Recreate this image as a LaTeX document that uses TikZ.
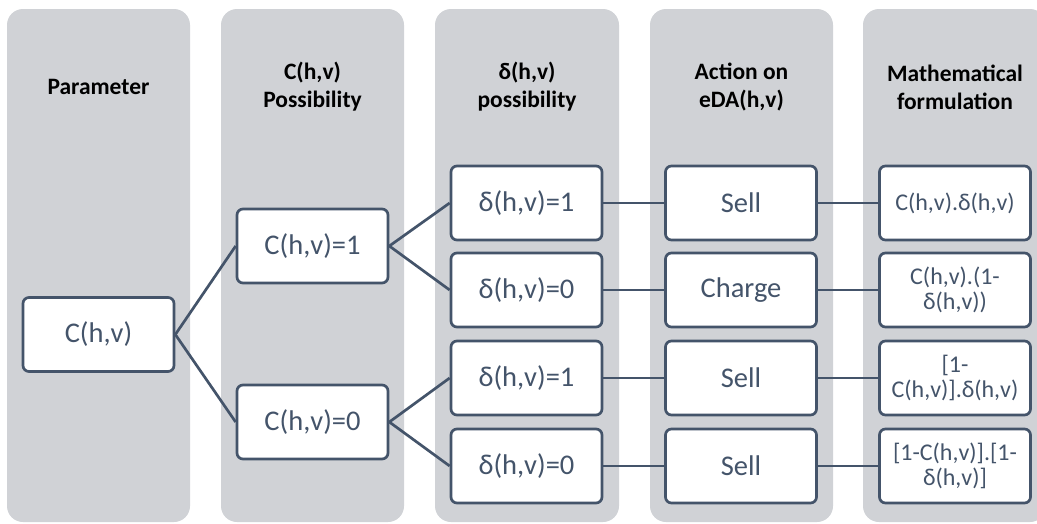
\documentclass[tikz,border=0pt]{standalone}
\usepackage{fontspec}
\setmainfont{Carlito}
\definecolor{colbg}{RGB}{208,210,214}
\definecolor{slate}{RGB}{68,84,106}
\begin{document}
\begin{tikzpicture}[x=1pt,y=-1pt,
  colfill/.style={fill=colbg, rounded corners=16pt},
  box/.style={draw=slate, line width=2.7pt, fill=white, rounded corners=6pt,
    minimum width=151pt, minimum height=74pt, text=slate, inner sep=0pt,
    font=\fontsize{28.5}{32}\selectfont},
  fbox/.style={box, align=center, font=\fontsize{24}{25.5}\selectfont},
  head/.style={font=\bfseries\fontsize{23.5}{28}\selectfont, align=center, text=black},
  link/.style={draw=slate, line width=2.7pt}]
\useasboundingbox (0,0) rectangle (1037,523);
\begin{scope}
\clip (0,0) rectangle (1037,523);
\fill[colfill] (7,9) rectangle (190,522);
\fill[colfill] (221,9) rectangle (404,522);
\fill[colfill] (435,9) rectangle (619,522);
\fill[colfill] (650,9) rectangle (833,522);
\fill[colfill] (863,9) rectangle (1046,522);
\end{scope}
\node[head] (h1) at (98.5,87) {Parameter};
\node[head] (h2) at (312.5,87) {C(h,v)\\Possibility};
\node[head] (h3) at (527,87) {δ(h,v)\\possibility};
\node[head] (h4) at (741.5,87) {Action on\\eDA(h,v)};
\node[head] (h5) at (955,87) {Mathematical\\formulation};

\node[box] (c0) at (98.5,334.5) {C(h,v)};
\node[box] (c1) at (312.5,246) {C(h,v)=1};
\node[box] (c2) at (312.5,422) {C(h,v)=0};

\node[box] (d1) at (526.5,203) {δ(h,v)=1};
\node[box] (d2) at (526.5,290) {δ(h,v)=0};
\node[box] (d3) at (526.5,378) {δ(h,v)=1};
\node[box] (d4) at (526.5,466) {δ(h,v)=0};

\node[box] (a1) at (741,203) {Sell};
\node[box] (a2) at (741,290) {Charge};
\node[box] (a3) at (741,378) {Sell};
\node[box] (a4) at (741,466) {Sell};

\node[fbox] (f1) at (955,203) {C(h,v).δ(h,v)};
\node[fbox] (f2) at (955,290) {C(h,v).(1-\\δ(h,v))};
\node[fbox] (f3) at (955,378) {[1-\\C(h,v)].δ(h,v)};
\node[fbox] (f4) at (955,466) {[1-C(h,v)].[1-\\δ(h,v)]};

\draw[link] (c0.east) -- (c1.west);
\draw[link] (c0.east) -- (c2.west);
\draw[link] (c1.east) -- (d1.west);
\draw[link] (c1.east) -- (d2.west);
\draw[link] (c2.east) -- (d3.west);
\draw[link] (c2.east) -- (d4.west);
\foreach \i in {1,...,4}{
  \draw[link] (d\i.east) -- (a\i.west);
  \draw[link] (a\i.east) -- (f\i.west);
}
\end{tikzpicture}
\end{document}
